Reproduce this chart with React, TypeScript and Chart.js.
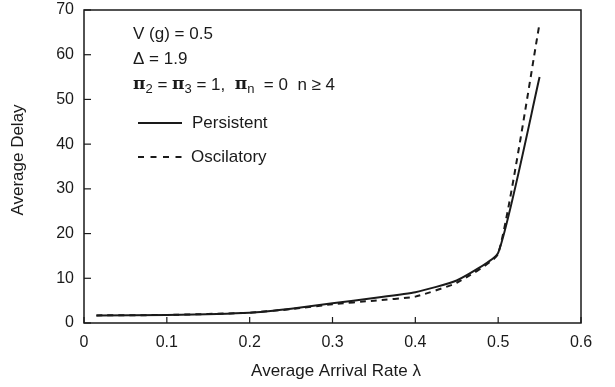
import React, { useEffect, useRef } from "react";
import { Chart, registerables } from "chart.js";

Chart.register(...registerables);

const arrivalRate = [0.015, 0.1, 0.2, 0.25, 0.3, 0.35, 0.4, 0.45, 0.5, 0.55];
const persistent = [1.7, 1.8, 2.3, 3.2, 4.4, 5.6, 6.9, 9.5, 15.7, 55];
const oscilatory = [1.7, 1.8, 2.3, 3.1, 4.2, 5.0, 5.9, 9.0, 15.5, 67];
const xTicks = [0, 0.1, 0.2, 0.3, 0.4, 0.5, 0.6];
const yTicks = [0, 10, 20, 30, 40, 50, 60, 70];
const seriesNames = ["Persistent", "Oscilatory"];

const FONT = "'Liberation Sans', Arial, Helvetica, sans-serif";
const INK = "#1a1a1a";

const decorPlugin = {
  id: "decor",
  afterDraw(chart: any) {
    const { ctx, chartArea } = chart;
    const { left, right, top, bottom } = chartArea;
    const xs = chart.scales.x;
    const ys = chart.scales.y;
    ctx.save();
    // frame
    ctx.strokeStyle = INK;
    ctx.lineWidth = 1.5;
    ctx.strokeRect(left, top, right - left, bottom - top);
    // inward ticks
    ctx.lineWidth = 1.2;
    xTicks.forEach((v) => {
      const px = xs.getPixelForValue(v);
      ctx.beginPath();
      ctx.moveTo(px, bottom);
      ctx.lineTo(px, bottom - 6);
      ctx.stroke();
    });
    yTicks.forEach((v) => {
      const py = ys.getPixelForValue(v);
      ctx.beginPath();
      ctx.moveTo(left, py);
      ctx.lineTo(left + 7, py);
      ctx.stroke();
    });
    // annotations
    ctx.fillStyle = INK;
    ctx.textBaseline = "middle";
    ctx.textAlign = "left";
    const tx = 133;
    ctx.font = `17px ${FONT}`;
    ctx.fillText("V (g) = 0.5", tx, 34);
    ctx.fillText("\u0394 = 1.9", tx, 59);
    // pi line
    let cx = tx;
    const y3 = 85;
    const parts: [string, boolean][] = [
      ["\u03c0", false], ["2", true], [" = ", false], ["\u03c0", false], ["3", true],
      [" = 1,  ", false], ["\u03c0", false], ["n", true], ["  = 0  n \u2265 4", false],
    ];
    parts.forEach(([t, sub]) => {
      if (sub) {
        ctx.font = `13px ${FONT}`;
        ctx.fillText(t, cx, y3 + 4);
      } else if (t === "\u03c0") {
        ctx.font = `bold 17px 'DejaVu Serif', serif`;
        ctx.fillText(t, cx, y3);
      } else {
        ctx.font = `17px ${FONT}`;
        ctx.fillText(t, cx, y3);
      }
      cx += ctx.measureText(t).width;
    });
    // legend
    ctx.font = `17px ${FONT}`;
    ctx.lineWidth = 1.8;
    ctx.beginPath();
    ctx.moveTo(138, 123);
    ctx.lineTo(182, 123);
    ctx.stroke();
    ctx.fillText(seriesNames[0], 192, 123);
    ctx.setLineDash([6, 6.5]);
    ctx.beginPath();
    ctx.moveTo(138, 157);
    ctx.lineTo(182, 157);
    ctx.stroke();
    ctx.setLineDash([]);
    ctx.fillText(seriesNames[1], 191, 157);
    // axis titles
    ctx.font = `17px ${FONT}`;
    ctx.textAlign = "center";
    ctx.fillText("Average Arrival Rate \u03bb", 336, 371);
    ctx.translate(18, 160);
    ctx.rotate(-Math.PI / 2);
    ctx.fillText("Average Delay", 0, 0);
    ctx.restore();
  },
};

export default function App() {
  const ref = useRef<HTMLCanvasElement | null>(null);
  useEffect(() => {
    document.body.style.margin = "0";
    const canvas = ref.current!;
    const chart = new Chart(canvas, {
      type: "line",
      data: {
        datasets: [
          {
            label: seriesNames[0],
            data: arrivalRate.map((x, i) => ({ x, y: persistent[i] })),
            borderColor: INK,
            borderWidth: 2,
            pointRadius: 0,
            tension: 0.15,
            fill: false,
          },
          {
            label: seriesNames[1],
            data: arrivalRate.map((x, i) => ({ x, y: oscilatory[i] })),
            borderColor: INK,
            borderWidth: 2,
            borderDash: [6, 5],
            pointRadius: 0,
            tension: 0.15,
            fill: false,
          },
        ],
      },
      options: {
        responsive: false,
        animation: false,
        layout: { padding: { top: 10, right: 34, left: 0, bottom: 0 } },
        plugins: { legend: { display: false }, tooltip: { enabled: false } },
        scales: {
          x: {
            type: "linear",
            min: 0,
            max: 0.6,
            afterBuildTicks: (s: any) => {
              s.ticks = xTicks.map((v) => ({ value: v }));
            },
            afterFit: (s: any) => {
              s.height = 64;
              s.paddingLeft = 0;
              s.paddingRight = 0;
            },
            ticks: {
              padding: 10,
              color: INK,
              font: { family: FONT, size: 16 },
              callback: (v: any) => (v === 0 ? "0" : Number(v).toFixed(1)),
            },
            grid: { display: false, drawTicks: false },
            border: { display: false },
          },
          y: {
            min: 0,
            max: 70,
            afterBuildTicks: (s: any) => {
              s.ticks = yTicks.map((v) => ({ value: v }));
            },
            afterFit: (s: any) => {
              s.width = 84;
              s.paddingTop = 0;
              s.paddingBottom = 0;
            },
            ticks: {
              padding: 10,
              color: INK,
              font: { family: FONT, size: 16 },
            },
            grid: { display: false, drawTicks: false },
            border: { display: false },
          },
        },
      },
      plugins: [decorPlugin],
    });
    return () => chart.destroy();
  }, []);
  return (
    <div style={{ width: 615, height: 387, background: "#fff" }}>
      <canvas ref={ref} width={615} height={387} />
    </div>
  );
}
